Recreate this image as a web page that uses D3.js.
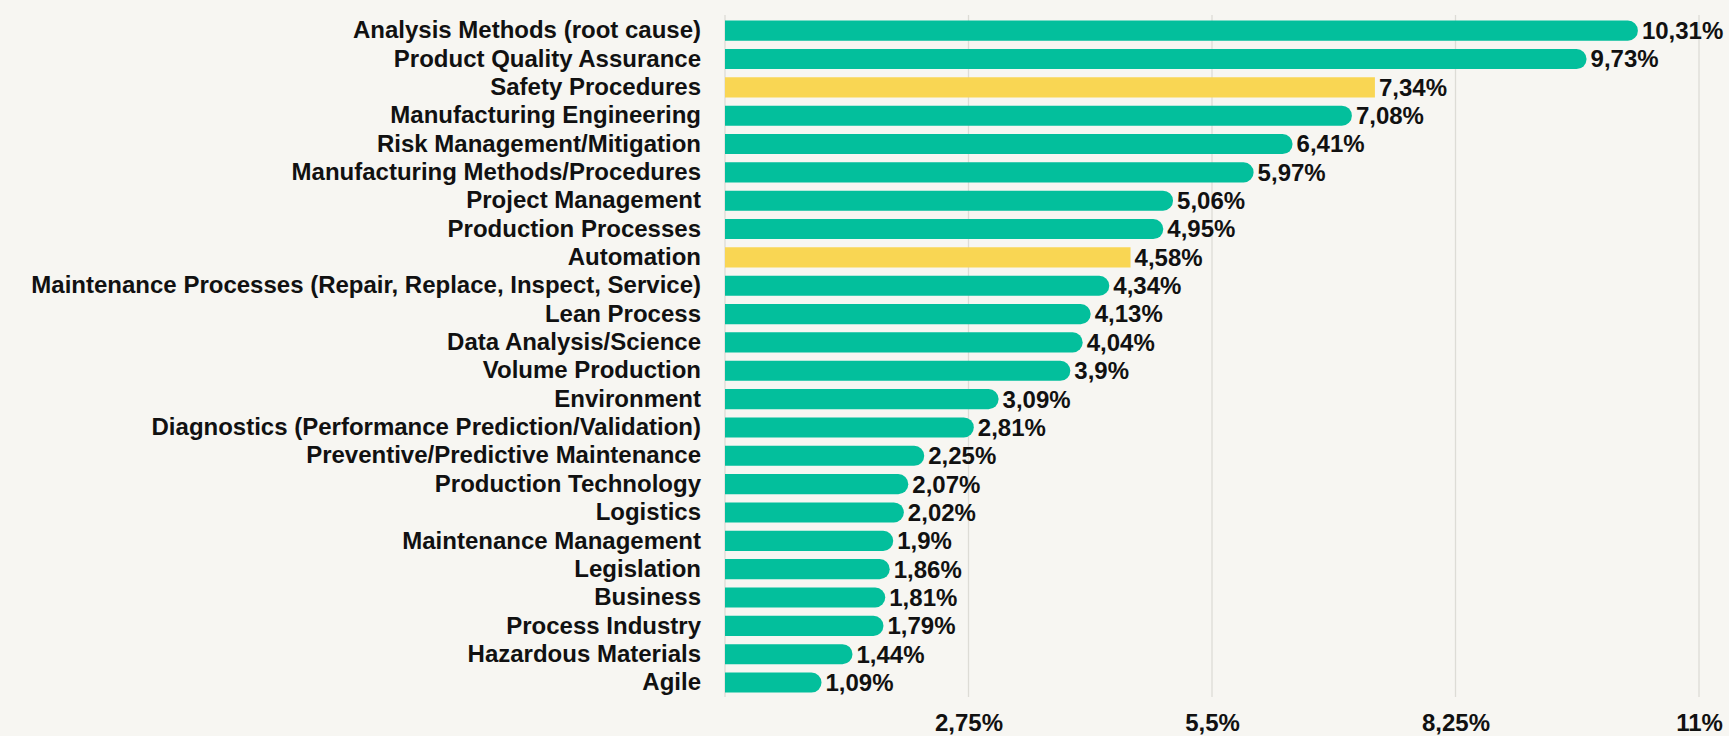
<!DOCTYPE html>
<html>
<head>
<meta charset="utf-8">
<script src="https://cdn.jsdelivr.net/npm/d3@7"></script>
<style>
  html, body { margin: 0; padding: 0; background: #f7f6f2; }
  svg { display: block; }
  text { font-family: "Liberation Sans", Arial, sans-serif; font-weight: bold; fill: #111; }
</style>
</head>
<body>
<div id="container"></div>
<script>
// ---------------------------- DATA ----------------------------//
const categories = [
  "Analysis Methods (root cause)",
  "Product Quality Assurance",
  "Safety Procedures",
  "Manufacturing Engineering",
  "Risk Management/Mitigation",
  "Manufacturing Methods/Procedures",
  "Project Management",
  "Production Processes",
  "Automation",
  "Maintenance Processes (Repair, Replace, Inspect, Service)",
  "Lean Process",
  "Data Analysis/Science",
  "Volume Production",
  "Environment",
  "Diagnostics (Performance Prediction/Validation)",
  "Preventive/Predictive Maintenance",
  "Production Technology",
  "Logistics",
  "Maintenance Management",
  "Legislation",
  "Business",
  "Process Industry",
  "Hazardous Materials",
  "Agile"
];
const values = [10.31, 9.73, 7.34, 7.08, 6.41, 5.97, 5.06, 4.95, 4.58, 4.34, 4.13, 4.04, 3.9,
  3.09, 2.81, 2.25, 2.07, 2.02, 1.9, 1.86, 1.81, 1.79, 1.44, 1.09];
const highlighted = ["Safety Procedures", "Automation"];
const tickValues = [2.75, 5.5, 8.25, 11];

const data = categories.map((c, i) => ({ name: c, value: values[i] }));

const width = 1729;
const height = 736;
const green = "#03bf9c";
const yellow = "#f9d653";
const fontSize = "24px";

const svg = d3.select("#container").append("svg")
  .attr("width", width)
  .attr("height", height);

// --------------------------- SCALES ---------------------------//
const x = d3.scaleLinear().domain([0, 11]).range([725, 1699]);
const y = d3.scaleBand().domain(categories).range([16.5, 696.7])
  .paddingInner(0.29).paddingOuter(0.145);

const fmt = v => String(v).replace(".", ",") + "%";

// ---------------------------- GRID ----------------------------//
svg.append("g")
  .selectAll("line")
  .data([0].concat(tickValues))
  .join("line")
  .attr("x1", d => x(d)).attr("x2", d => x(d))
  .attr("y1", 15).attr("y2", 697)
  .attr("stroke", "#dddcd6")
  .attr("stroke-width", 1.3);

// x axis labels
const xAxis = d3.axisBottom(x).tickValues(tickValues).tickFormat(fmt).tickSize(0).tickPadding(0);
const gx = svg.append("g").attr("transform", "translate(0,714)").call(xAxis);
gx.select(".domain").remove();
gx.selectAll("text")
  .attr("dy", "0.71em")
  .style("font-size", fontSize)
  .style("font-family", "'Liberation Sans', Arial, sans-serif")
  .style("font-weight", "bold")
  .attr("fill", "#111");

// y axis labels
const yAxis = d3.axisLeft(y).tickSize(0).tickPadding(0);
const gy = svg.append("g").attr("transform", "translate(701,0)").call(yAxis);
gy.select(".domain").remove();
gy.selectAll("text")
  .style("font-size", fontSize)
  .style("font-family", "'Liberation Sans', Arial, sans-serif")
  .style("font-weight", "bold")
  .attr("fill", "#111");

// ---------------------------- BARS ----------------------------//
function barPath(d) {
  const x0 = x(0), x1 = x(d.value), y0 = y(d.name), h = y.bandwidth();
  if (highlighted.includes(d.name)) {
    return `M${x0},${y0}H${x1}V${y0 + h}H${x0}Z`;
  }
  const r = h / 2;
  return `M${x0},${y0}H${x1 - r}A${r},${r} 0 0 1 ${x1 - r},${y0 + h}H${x0}Z`;
}

svg.append("g")
  .selectAll("path")
  .data(data)
  .join("path")
  .attr("d", barPath)
  .attr("fill", d => highlighted.includes(d.name) ? yellow : green);

// value labels
svg.append("g")
  .selectAll("text")
  .data(data)
  .join("text")
  .attr("x", d => x(d.value) + 4)
  .attr("y", d => y(d.name) + y.bandwidth() / 2)
  .attr("dy", "0.35em")
  .style("font-size", fontSize)
  .text(d => fmt(d.value));
</script>
</body>
</html>
